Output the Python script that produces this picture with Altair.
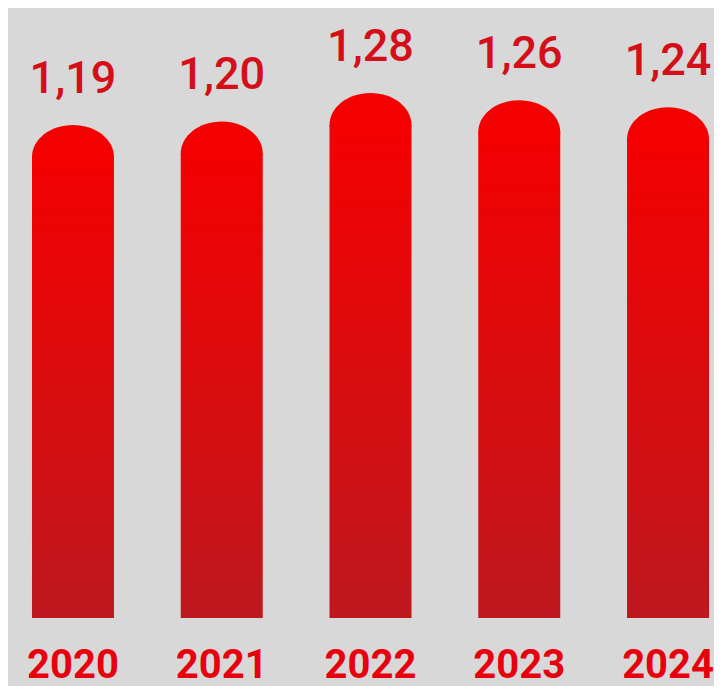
import altair as alt
import pandas as pd

years = ["2020", "2021", "2022", "2023", "2024"]
values = [1.19, 1.20, 1.28, 1.26, 1.24]
labels = ["1,19", "1,20", "1,28", "1,26", "1,24"]

df = pd.DataFrame({"year": years, "value": values, "label": labels})

x = alt.X("year:N", sort=years,
          scale=alt.Scale(range=[-9.4, 734.4], paddingInner=0, paddingOuter=0),
          axis=alt.Axis(title=None, domain=False, ticks=False, labelAngle=0,
                        labelFont="Roboto", labelFontSize=40, labelFontWeight="bold",
                        labelColor="#e8000e", labelPadding=59, labelBaseline="alphabetic"))
y = alt.Y("value:Q", scale=alt.Scale(domain=[-0.106, 1.609], zero=False, nice=False),
          axis=None)

grad = alt.Gradient(gradient="linear",
                    stops=[alt.GradientStop(color="#f40000", offset=0),
                           alt.GradientStop(color="#be181e", offset=1)],
                    x1=0, x2=0, y1=0, y2=1)

base = alt.Chart(df)

bars = base.mark_bar(width=82, color=grad).encode(
    x=x, y=y, y2=alt.Y2(datum=-0.106))

caps = base.mark_point(shape="M-1,0.04 L-1,0 A1,0.78 0 0,1 1,0 L1,0.04 Z", size=6724,
                       filled=True, opacity=1, color="#f40000", strokeWidth=0).encode(x=x, y=y)

text = base.mark_text(font="Roboto", fontSize=45, fontWeight=500, color="#d40f1a",
                      baseline="alphabetic", dy=-64).encode(x=x, y=y, text="label:N")

chart = (bars + caps + text).properties(
    width=706, height=610,
    autosize=alt.AutoSizeParams(type="none"),
    padding={"left": 0, "top": 0, "right": 0, "bottom": 68},
    background="#d8d8d8",
).configure_view(stroke=None)

chart.save("out.html", embed_options={"renderer": "svg", "actions": False})
